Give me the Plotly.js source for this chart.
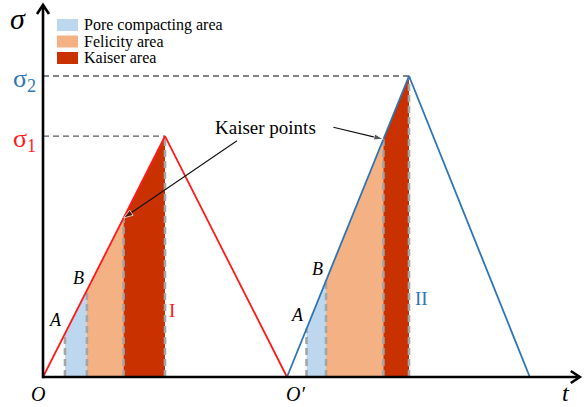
<!DOCTYPE html>
<html>
<head>
<meta charset="utf-8">
<script src="https://cdn.plot.ly/plotly-3.0.1.min.js"></script>
<style>
  html, body { margin: 0; padding: 0; background: #fff; }
  #chart { width: 584px; height: 407px; }
</style>
</head>
<body>
<div id="chart"></div>
<script>
// Two loading cycles: stress rises linearly to a peak and falls back to zero.
const cycleNames = ['I', 'II'];
const cycleStart = [0, 2];
const cyclePeakTime = [1, 3];
const cycleEnd = [2, 3.99];
const peakStress = [0.8, 1.0];
const stressLabels = ['σ<sub>1</sub>', 'σ<sub>2</sub>'];
const cycleColors = ['#FF1A1A', '#2E75B6'];

// Characteristic points on the loading branch (time offset from cycle start)
const pointA = [0.18, 0.16];
const pointB = [0.36, 0.32];
const kaiserPoint = [0.66, 0.79];

// Acoustic emission zones
const areaNames = ['Pore compacting area', 'Felicity area', 'Kaiser area'];
const areaColors = ['#BDD7EE', '#F4B183', '#C93200'];

const serif = 'Liberation Serif';
const tMax = 4.40, sMax = 1.236;

function stressAt(i, t) {
  return peakStress[i] * (t - cycleStart[i]) / (cyclePeakTime[i] - cycleStart[i]);
}

const traces = [];
const dashTraces = [];
const lineTraces = [];
const arrowTraces = [];
const annotations = [];

for (let i = 0; i < cycleNames.length; i++) {
  const bounds = [pointA[i], pointB[i], kaiserPoint[i]].map(u => cycleStart[i] + u);
  bounds.push(cyclePeakTime[i]);

  // shaded zones under the loading branch
  for (let k = 0; k < areaNames.length; k++) {
    const t0 = bounds[k], t1 = bounds[k + 1];
    traces.push({
      type: 'scatter', mode: 'lines', name: areaNames[k],
      x: [t0, t0, t1, t1, t0],
      y: [0, stressAt(i, t0), stressAt(i, t1), 0, 0],
      fill: 'toself', fillcolor: areaColors[k],
      line: { width: 0 }, hoverinfo: 'skip'
    });
  }

  // grey dashed boundaries of the zones
  bounds.forEach(t => {
    dashTraces.push({
      type: 'scatter', mode: 'lines',
      x: [t, t], y: [0, stressAt(i, t)],
      line: { color: '#A5A5A5', width: 2.6, dash: '7px,4px' },
      hoverinfo: 'skip'
    });
  });

  // peak stress reference line
  dashTraces.push({
    type: 'scatter', mode: 'lines',
    x: [0, cyclePeakTime[i]], y: [peakStress[i], peakStress[i]],
    line: { color: '#595959', width: 1.3, dash: '6px,4px' },
    hoverinfo: 'skip'
  });

  // loading / unloading path
  lineTraces.push({
    type: 'scatter', mode: 'lines', name: cycleNames[i],
    x: [cycleStart[i], cyclePeakTime[i], cycleEnd[i]],
    y: [0, peakStress[i], 0],
    line: { color: cycleColors[i], width: 1.8 },
    hoverinfo: 'skip'
  });

  // stress level labels on the vertical axis
  annotations.push({
    x: -0.15, y: peakStress[i] - 0.012, xref: 'x', yref: 'y',
    text: stressLabels[i], showarrow: false,
    font: { family: serif, size: 26, color: cycleColors[i] },
    xanchor: 'center', yanchor: 'middle'
  });

  // A / B point labels
  const ta = cycleStart[i] + pointA[i], tb = cycleStart[i] + pointB[i];
  annotations.push({
    x: ta - 0.075, y: stressAt(i, ta) + 0.045, xref: 'x', yref: 'y',
    text: '<i>A</i>', showarrow: false,
    font: { family: serif, size: 18, color: '#000' }
  });
  annotations.push({
    x: tb - 0.07, y: stressAt(i, tb) + 0.04, xref: 'x', yref: 'y',
    text: '<i>B</i>', showarrow: false,
    font: { family: serif, size: 18, color: '#000' }
  });

  // cycle number beside the Kaiser zone
  annotations.push({
    x: cyclePeakTime[i] + (i === 0 ? 0.06 : 0.1), y: i === 0 ? 0.222 : 0.262,
    xref: 'x', yref: 'y',
    text: cycleNames[i], showarrow: false,
    font: { family: serif, size: 19, color: cycleColors[i] }
  });

  // arrows from the caption to the Kaiser points
  const tk = cycleStart[i] + kaiserPoint[i];
  arrowTraces.push({
    type: 'scatter', mode: 'lines+markers',
    x: [i === 0 ? 1.59 : 2.38, tk],
    y: [i === 0 ? 0.785 : 0.83, stressAt(i, tk)],
    line: { color: '#111', width: 1.1 },
    marker: { symbol: 'arrow', angleref: 'previous', size: [0, 10], color: '#111' },
    hoverinfo: 'skip'
  });
}

// coordinate axes with open arrowheads
const shapes = [
  { type: 'line', xref: 'x', yref: 'y', x0: 0, y0: -0.004, x1: 0, y1: sMax - 0.004,
    line: { color: '#000', width: 2.6 } },
  { type: 'line', xref: 'x', yref: 'y', x0: -0.004, y0: 0, x1: tMax - 0.004, y1: 0,
    line: { color: '#000', width: 2.6 } },
  { type: 'path', xref: 'x', yref: 'y', xsizemode: 'pixel', ysizemode: 'pixel',
    xanchor: 0, yanchor: sMax, path: 'M -6 -9 L 0 0 L 6 -9',
    line: { color: '#000', width: 2.6 } },
  { type: 'path', xref: 'x', yref: 'y', xsizemode: 'pixel', ysizemode: 'pixel',
    xanchor: tMax, yanchor: 0, path: 'M -9 -6 L 0 0 L -9 6',
    line: { color: '#000', width: 2.6 } }
];

// axis symbols, origins and caption
annotations.push(
  { x: -0.205, y: 1.19, xref: 'x', yref: 'y', text: '<i>σ</i>', showarrow: false,
    font: { family: serif, size: 30, color: '#000' } },
  { x: 4.287, y: -0.0985, xref: 'x', yref: 'y', yanchor: 'bottom', borderpad: 0,
    text: '<i>t</i>', showarrow: false, font: { family: serif, size: 24, color: '#000' } },
  { x: -0.04, y: -0.055, xref: 'x', yref: 'y', text: '<i>O</i>', showarrow: false,
    font: { family: serif, size: 20, color: '#000' } },
  { x: 2.07, y: -0.055, xref: 'x', yref: 'y', text: '<i>O′</i>', showarrow: false,
    font: { family: serif, size: 20, color: '#000' } },
  { x: 1.82, y: 0.828, xref: 'x', yref: 'y', text: 'Kaiser points', showarrow: false,
    font: { family: serif, size: 19, color: '#000' } }
);

// zone key in the upper left corner
const W = 584, H = 407;
areaNames.forEach((name, k) => {
  const top = 19 + 16.5 * k;
  shapes.push({
    type: 'rect', xref: 'paper', yref: 'paper',
    x0: 57 / W, x1: 78 / W, y0: 1 - top / H, y1: 1 - (top + 12) / H,
    fillcolor: areaColors[k], line: { width: 0 }
  });
  annotations.push({
    x: 82 / W, y: 1 - (top + 6) / H, xref: 'paper', yref: 'paper',
    xanchor: 'left', yanchor: 'middle', text: name, showarrow: false,
    font: { family: serif, size: 16, color: '#000' }
  });
});

const layout = {
  width: W, height: H,
  margin: { l: 0, r: 0, t: 0, b: 0, pad: 0 },
  paper_bgcolor: '#fff', plot_bgcolor: '#fff',
  showlegend: false,
  xaxis: { visible: false, range: [-43 / 122, 541 / 122], fixedrange: true },
  yaxis: { visible: false, range: [-30 / 301, 377 / 301], fixedrange: true },
  shapes: shapes,
  annotations: annotations
};

Plotly.newPlot('chart', traces.concat(dashTraces, lineTraces, arrowTraces), layout,
  { displayModeBar: false, staticPlot: true });
</script>
</body>
</html>
